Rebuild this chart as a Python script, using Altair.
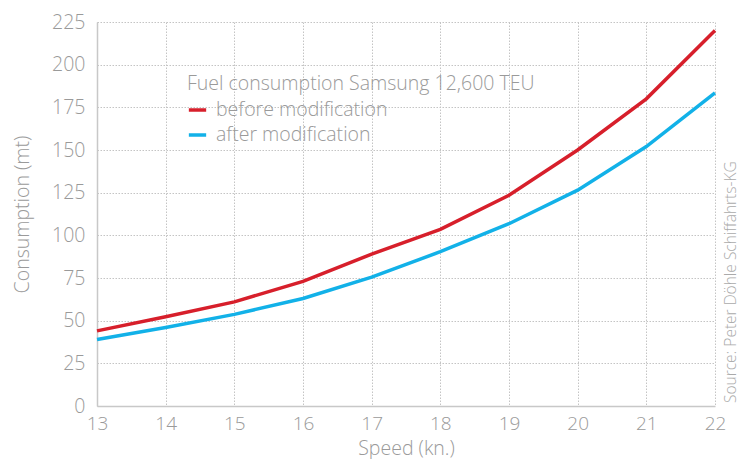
import altair as alt
import pandas as pd

speed = [13, 14, 15, 16, 17, 18, 19, 20, 21, 22]
before = [44, 52.3, 61, 73, 89, 103.5, 123.5, 150, 180, 220]
after = [39, 46, 53.7, 63, 75.5, 90.4, 106.8, 126.5, 152, 183.5]
series_names = ["before modification", "after modification"]
colors = ["#d71f2b", "#12b1e8"]
legend_title = "Fuel consumption Samsung 12,600 TEU"
source_text = "Source: Peter Döhle Schiffahrts-KG"

rows = []
for s, b, a in zip(speed, before, after):
    rows.append({"speed": s, "value": b, "series": series_names[0]})
    rows.append({"speed": s, "value": a, "series": series_names[1]})
df = pd.DataFrame(rows)

FONT = "Open Sans"
GRAY = "#9a9a9a"
W, H = 618, 384

lines = alt.Chart(df).mark_line(strokeWidth=3.5, strokeCap="butt").encode(
    x=alt.X("speed:Q", scale=alt.Scale(domain=[13, 22], nice=False),
            axis=alt.Axis(values=speed, title="Speed (kn.)", format="d")),
    y=alt.Y("value:Q", scale=alt.Scale(domain=[0, 225], nice=False),
            axis=alt.Axis(values=list(range(0, 226, 25)), title="Consumption (mt)")),
    color=alt.Color("series:N", scale=alt.Scale(domain=series_names, range=colors),
                    legend=alt.Legend(title=legend_title, orient="none",
                                      legendX=90, legendY=53,
                                      symbolType="stroke", symbolStrokeWidth=3.5,
                                      symbolSize=300, labelFontSize=19.5, titleFontSize=19.5,
                                      titleFont=FONT, labelFont=FONT, titleFontWeight=300,
                                      labelFontWeight=300, titleLimit=600, labelLimit=400,
                                      titleColor=GRAY, labelColor=GRAY, rowPadding=5,
                                      titlePadding=5, padding=0, labelOffset=8)),
)

src = alt.Chart(pd.DataFrame({"t": [source_text]})).mark_text(
    angle=270, align="left", baseline="middle", font=FONT, fontSize=15.5,
    fontWeight=300, color="#aaaaaa"
).encode(text="t:N", x=alt.value(W + 16), y=alt.value(H - 3))

chart = alt.layer(lines, src).properties(
    width=W, height=H,
    autosize=alt.AutoSizeParams(type="none"),
    padding={"left": 89, "top": 14, "right": 26, "bottom": 60},
).configure_view(stroke=None).configure_axis(
    grid=True, gridColor="#c4c4c4", gridDash=[1.5, 1.5], gridWidth=1,
    domainColor="#c8c8c8", domainWidth=1.5, ticks=False,
    labelFont=FONT, labelFontSize=19.5, labelColor=GRAY, labelFontWeight=300,
    titleFont=FONT, titleFontSize=19.5, titleColor=GRAY, titleFontWeight=300,
).configure_axisX(labelPadding=8, labelFontSize=19, titlePadding=6,
                  labelFlush=False).configure_axisY(
    labelPadding=12, titlePadding=19
)

chart.save("out.html", embed_options={"renderer": "svg", "actions": False})
